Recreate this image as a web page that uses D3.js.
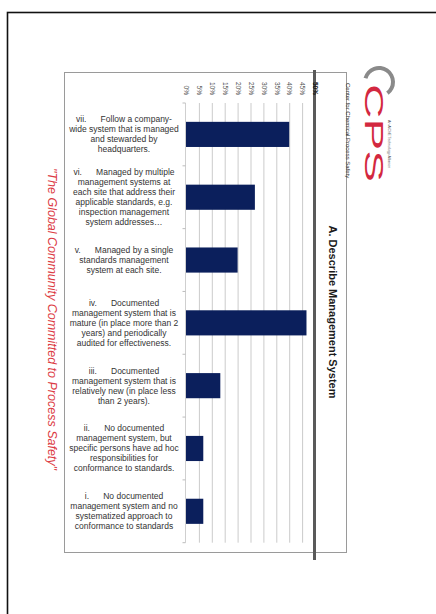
<!DOCTYPE html>
<html>
<head>
<meta charset="utf-8">
<script src="https://cdn.jsdelivr.net/npm/d3@7"></script>
<style>
  html, body { margin: 0; padding: 0; background: #fff; }
  svg { display: block; font-family: "Liberation Sans", Arial, sans-serif; -webkit-font-smoothing: antialiased; }
</style>
</head>
<body>
<svg id="chart" width="436" height="614"></svg>
<script>
// Survey question A: share of respondents choosing each management-system option
const categories = ["vii", "vi", "v", "iv", "iii", "ii", "i"];
const values = [40, 26.7, 20, 46.7, 13.3, 6.7, 6.7];
const labelLines = [
  ["vii.      Follow a company-", "wide system that is managed", "and stewarded by", "headquarters."],
  ["vi.      Managed by multiple", "management systems at", "each site that address their", "applicable standards, e.g.", "inspection management", "system addresses\u2026"],
  ["v.      Managed by a single", "standards management", "system at each site."],
  ["iv.      Documented", "management system that is", "mature (in place more than 2", "years) and periodically", "audited for effectiveness."],
  ["iii.      Documented", "management system that is", "relatively new (in place less", "than 2 years)."],
  ["ii.      No documented", "management system, but", "specific persons have ad hoc", "responsibilities for", "conformance to standards."],
  ["i.      No documented", "management system and no", "systematized approach to", "conformance to standards"]
];
const tickValues = [0, 5, 10, 15, 20, 25, 30, 35, 40, 45, 50];
const title = "A. Describe Management System";
const tagline = "\"The Global Community Committed to Process Safety\"";

const svg = d3.select("#chart");

// page frame (right and bottom edges run off the page)
svg.append("rect")
  .attr("x", 7.5).attr("y", 12.5).attr("width", 440).attr("height", 640)
  .attr("fill", "none").attr("stroke", "#111").attr("stroke-width", 1.6);

// chart panel
svg.append("rect")
  .attr("x", 64.5).attr("y", 72.5).attr("width", 282).attr("height", 480)
  .attr("fill", "#fff").attr("stroke", "#9a9a9a").attr("stroke-width", 1);

const x = d3.scaleLinear().domain([0, 50]).range([186, 315]);
const y = d3.scaleBand().domain(categories).range([103, 542.7])
  .paddingInner(0.6).paddingOuter(0.3);

// value gridlines
svg.append("g").selectAll("line")
  .data(tickValues.filter(d => d > 0 && d < 50))
  .join("line")
  .attr("x1", d => x(d) + 0.5).attr("x2", d => x(d) + 0.5)
  .attr("y1", 103).attr("y2", 542.7)
  .attr("stroke", "#cbcbcb").attr("stroke-width", 1);

// category axis with boundary ticks
const step = y.step();
const catAxis = svg.append("g");
catAxis.append("line")
  .attr("x1", x(0) - 0.5).attr("x2", x(0) - 0.5)
  .attr("y1", 103).attr("y2", 542.7)
  .attr("stroke", "#cfcfcf");
catAxis.selectAll("line.tk")
  .data(d3.range(categories.length + 1))
  .join("line").attr("class", "tk")
  .attr("x1", x(0) - 3.5).attr("x2", x(0) - 0.5)
  .attr("y1", i => 103 + i * step).attr("y2", i => 103 + i * step)
  .attr("stroke", "#bdbdbd");

// bars
svg.append("g").selectAll("rect")
  .data(categories)
  .join("rect")
  .attr("x", x(0))
  .attr("y", d => y(d))
  .attr("width", (d, i) => x(values[i]) - x(0))
  .attr("height", y.bandwidth())
  .attr("fill", "#0b1f5c");

// category labels (grayscale-smoothed group)
const lh = 10;
svg.append("g")
  .attr("opacity", 0.999)
  .selectAll("text")
  .data(categories)
  .join("text")
  .attr("font-size", 8.5)
  .attr("fill", "#333")
  .attr("text-anchor", "middle")
  .style("white-space", "pre")
  .each(function (d, i) {
    const lines = labelLines[i];
    const cy = y(d) + y.bandwidth() / 2;
    const top = cy - (lines.length - 1) * lh / 2;
    d3.select(this).selectAll("tspan")
      .data(lines)
      .join("tspan")
      .attr("x", 124)
      .attr("y", (t, k) => top + k * lh)
      .attr("dy", "0.35em")
      .text(t => t);
  });

// slide header rule
svg.append("line")
  .attr("x1", 314.5).attr("x2", 314.5).attr("y1", 70).attr("y2", 560)
  .attr("stroke", "#5a5a5a").attr("stroke-width", 3);

// rotated value tick labels
svg.append("g").selectAll("text")
  .data(tickValues)
  .join("text")
  .attr("transform", d => `translate(${x(d) + 0.5},95) rotate(90)`)
  .attr("text-anchor", "end")
  .attr("dy", "0.35em")
  .attr("font-size", 6.5)
  .attr("font-weight", d => d === 50 ? "bold" : "normal")
  .attr("fill", d => d === 50 ? "#111" : "#4a4a4a")
  .text(d => d + "%");

// title
svg.append("text")
  .attr("transform", "translate(333,312) rotate(90)")
  .attr("text-anchor", "middle").attr("dy", "0.35em")
  .attr("font-size", 11).attr("font-weight", "bold").attr("fill", "#1a1a1a")
  .text(title);

// tagline
svg.append("text")
  .attr("transform", "translate(52,319) rotate(90)")
  .attr("text-anchor", "middle").attr("dy", "0.35em")
  .attr("font-size", 12.5).attr("font-style", "italic").attr("fill", "#dc3b44")
  .text(tagline);

// logo
const logo = svg.append("g");
logo.append("path")
  .attr("transform", "translate(379,82)")
  .attr("d", d3.arc().innerRadius(12).outerRadius(16).startAngle(-1.3).endAngle(2.5)())
  .attr("fill", "#8a8a8a");
logo.append("text")
  .attr("transform", "translate(365,84) rotate(90)")
  .attr("font-size", 26).attr("fill", "#d3283f")
  .attr("textLength", 98).attr("lengthAdjust", "spacingAndGlyphs")
  .text("CPS");
logo.append("text")
  .attr("transform", "translate(389,120) rotate(90)")
  .attr("dy", "0.35em")
  .attr("font-size", 3.6).attr("fill", "#555")
  .text("An AIChE Technology Alliance");
logo.append("text")
  .attr("transform", "translate(348.5,83) rotate(90)")
  .attr("dy", "0.35em")
  .attr("font-size", 6).attr("fill", "#333")
  .text("Center for Chemical Process Safety");
</script>
</body>
</html>
